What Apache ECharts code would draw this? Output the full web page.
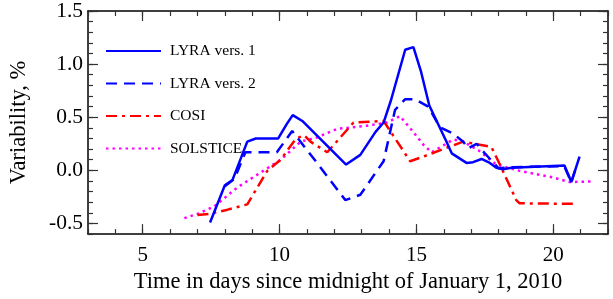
<!DOCTYPE html>
<html>
<head>
<meta charset="utf-8">
<script src="https://cdn.jsdelivr.net/npm/echarts@6/dist/echarts.min.js"></script>
<style>html,body{margin:0;padding:0;background:#fff}#c{width:613px;height:299px}</style>
</head>
<body>
<div id="c"></div>
<script>
// ---- data ----
var seriesNames = ['LYRA vers. 1', 'LYRA vers. 2', 'COSI', 'SOLSTICE'];
var lyra1 = [[7.46,-0.49],[8.0,-0.14],[8.28,-0.09],[8.82,0.27],[9.13,0.30],[9.95,0.30],[10.26,0.435],[10.48,0.52],[10.83,0.465],[12.43,0.055],[12.95,0.146],[13.5,0.36],[13.8,0.45],[14.07,0.66],[14.59,1.135],[14.89,1.16],[15.16,0.937],[15.47,0.61],[16.1,0.27],[16.29,0.16],[16.83,0.07],[17.07,0.077],[17.38,0.107],[17.68,0.07],[17.92,0.025],[18.17,0.01],[18.47,0.025],[20.41,0.046],[20.66,-0.11],[20.96,0.13]];
var lyra2 = [[8.0,-0.15],[8.35,-0.08],[8.75,0.17],[9.9,0.17],[10.46,0.37],[11.31,0.09],[12.4,-0.28],[12.95,-0.23],[13.8,0.086],[14.22,0.57],[14.59,0.67],[14.95,0.67],[15.43,0.60],[15.86,0.405],[16.35,0.344],[16.71,0.27],[16.89,0.207],[17.2,0.25],[17.5,0.16],[18.0,0.02],[18.5,0.03],[20.4,0.04],[20.66,-0.11],[20.8,0.0]];
var cosi = [[7.0,-0.42],[7.43,-0.41],[8.1,-0.37],[8.82,-0.32],[9.55,-0.005],[10.04,0.1],[10.6,0.30],[10.9,0.33],[11.13,0.27],[11.74,0.17],[12.7,0.45],[13.8,0.465],[14.77,0.086],[15.26,0.13],[16.04,0.207],[16.71,0.27],[17.74,0.22],[18.05,0.055],[18.65,-0.28],[18.77,-0.31],[20.72,-0.315]];
var solstice = [[6.52,-0.45],[7.0,-0.41],[7.61,-0.34],[8.46,-0.16],[9.31,-0.02],[10.04,0.1],[10.77,0.27],[11.37,0.31],[12.1,0.39],[13.19,0.42],[13.92,0.45],[14.4,0.51],[14.89,0.36],[15.26,0.24],[15.55,0.17],[16.35,0.29],[16.71,0.27],[17.26,0.19],[17.92,0.055],[18.77,-0.005],[19.99,-0.067],[20.6,-0.11],[21.44,-0.105]];
var xMajorTicks = [5, 10, 15, 20];
var xMinorTicks = [3,4,5,6,7,8,9,10,11,12,13,14,15,16,17,18,19,20,21,22];
var yMajorTicks = [-0.5, 0.0, 0.5, 1.0, 1.5];
var yMinorTicks = [-0.6,-0.5,-0.4,-0.3,-0.2,-0.1,0,0.1,0.2,0.3,0.4,0.5,0.6,0.7,0.8,0.9,1.0,1.1,1.2,1.3,1.4,1.5];
var xTitle = 'Time in days since midnight of January 1, 2010';
var yTitle = 'Variability, %';

var FONT = 'Liberation Serif';
var AX = '#000';
function xAx(pos, ticks, len, showLine, showLabel, name) {
  return {
    type: 'value', position: pos, min: 3, max: 22, gridIndex: 0,
    axisLine: {show: showLine, onZero: false, lineStyle: {color: AX, width: 1.5}},
    axisTick: {show: true, inside: true, length: len, customValues: ticks, lineStyle: {color: '#333', width: 1.2}},
    axisLabel: {show: showLabel, customValues: xMajorTicks, margin: 11, color: '#000', fontFamily: FONT, fontSize: 21},
    splitLine: {show: false},
    name: name || '', nameLocation: 'middle', nameGap: 34,
    nameTextStyle: {color: '#000', fontFamily: FONT, fontSize: 22.5}
  };
}
function yAx(pos, ticks, len, showLine, showLabel, name) {
  return {
    type: 'value', position: pos, min: -0.6, max: 1.5, gridIndex: 0,
    axisLine: {show: showLine, onZero: false, lineStyle: {color: AX, width: 1.5}},
    axisTick: {show: true, inside: true, length: len, customValues: ticks, lineStyle: {color: '#333', width: 1.2}},
    axisLabel: {show: showLabel, customValues: yMajorTicks, margin: 5, color: '#000', fontFamily: FONT, fontSize: 21.5,
      formatter: function (v) { return (Math.round(v * 10) / 10).toFixed(1); }},
    splitLine: {show: false},
    name: name || '', nameLocation: 'middle', nameGap: 57, nameRotate: 90,
    nameTextStyle: {color: '#000', fontFamily: FONT, fontSize: 22.5}
  };
}
function mk(name, data, color, type, z) {
  return {
    name: name, type: 'line', data: data, xAxisIndex: 0, yAxisIndex: 0,
    showSymbol: false, symbol: 'none', smooth: false, z: z,
    lineStyle: {color: color, width: 2.5, type: type, cap: 'butt'},
    itemStyle: {color: color}
  };
}
var chart = echarts.init(document.getElementById('c'), null, {renderer: 'canvas'});
chart.setOption({
  animation: false,
  backgroundColor: '#fff',
  grid: {left: 86.5, top: 8.5, right: 5, bottom: 61, containLabel: false},
  legend: {
    show: true, orient: 'vertical', left: 100, top: 38, itemWidth: 55, itemHeight: 14, itemGap: 16.5,
    data: seriesNames,
    itemStyle: {color: 'rgba(0,0,0,0)', borderColor: 'rgba(0,0,0,0)', borderWidth: 0, opacity: 0},
    textStyle: {color: '#000', fontFamily: FONT, fontSize: 15.5, padding: [0, 0, 0, 4]}
  },
  xAxis: [
    xAx('bottom', xMinorTicks, 5, true, true, xTitle),
    xAx('bottom', xMajorTicks, 10, false, false),
    xAx('top', xMinorTicks, 5, true, false),
    xAx('top', xMajorTicks, 10, false, false)
  ],
  yAxis: [
    yAx('left', yMinorTicks, 5, true, true, yTitle),
    yAx('left', yMajorTicks, 10, false, false),
    yAx('right', yMinorTicks, 5, true, false),
    yAx('right', yMajorTicks, 10, false, false)
  ],
  series: [
    mk(seriesNames[0], lyra1, '#0000ff', 'solid', 5),
    mk(seriesNames[1], lyra2, '#0000ff', [11, 7], 4),
    mk(seriesNames[2], cosi, '#ff0000', [11, 5, 3, 5], 3),
    mk(seriesNames[3], solstice, '#ff00ff', [2.5, 4], 2)
  ]
});
</script>
</body>
</html>
